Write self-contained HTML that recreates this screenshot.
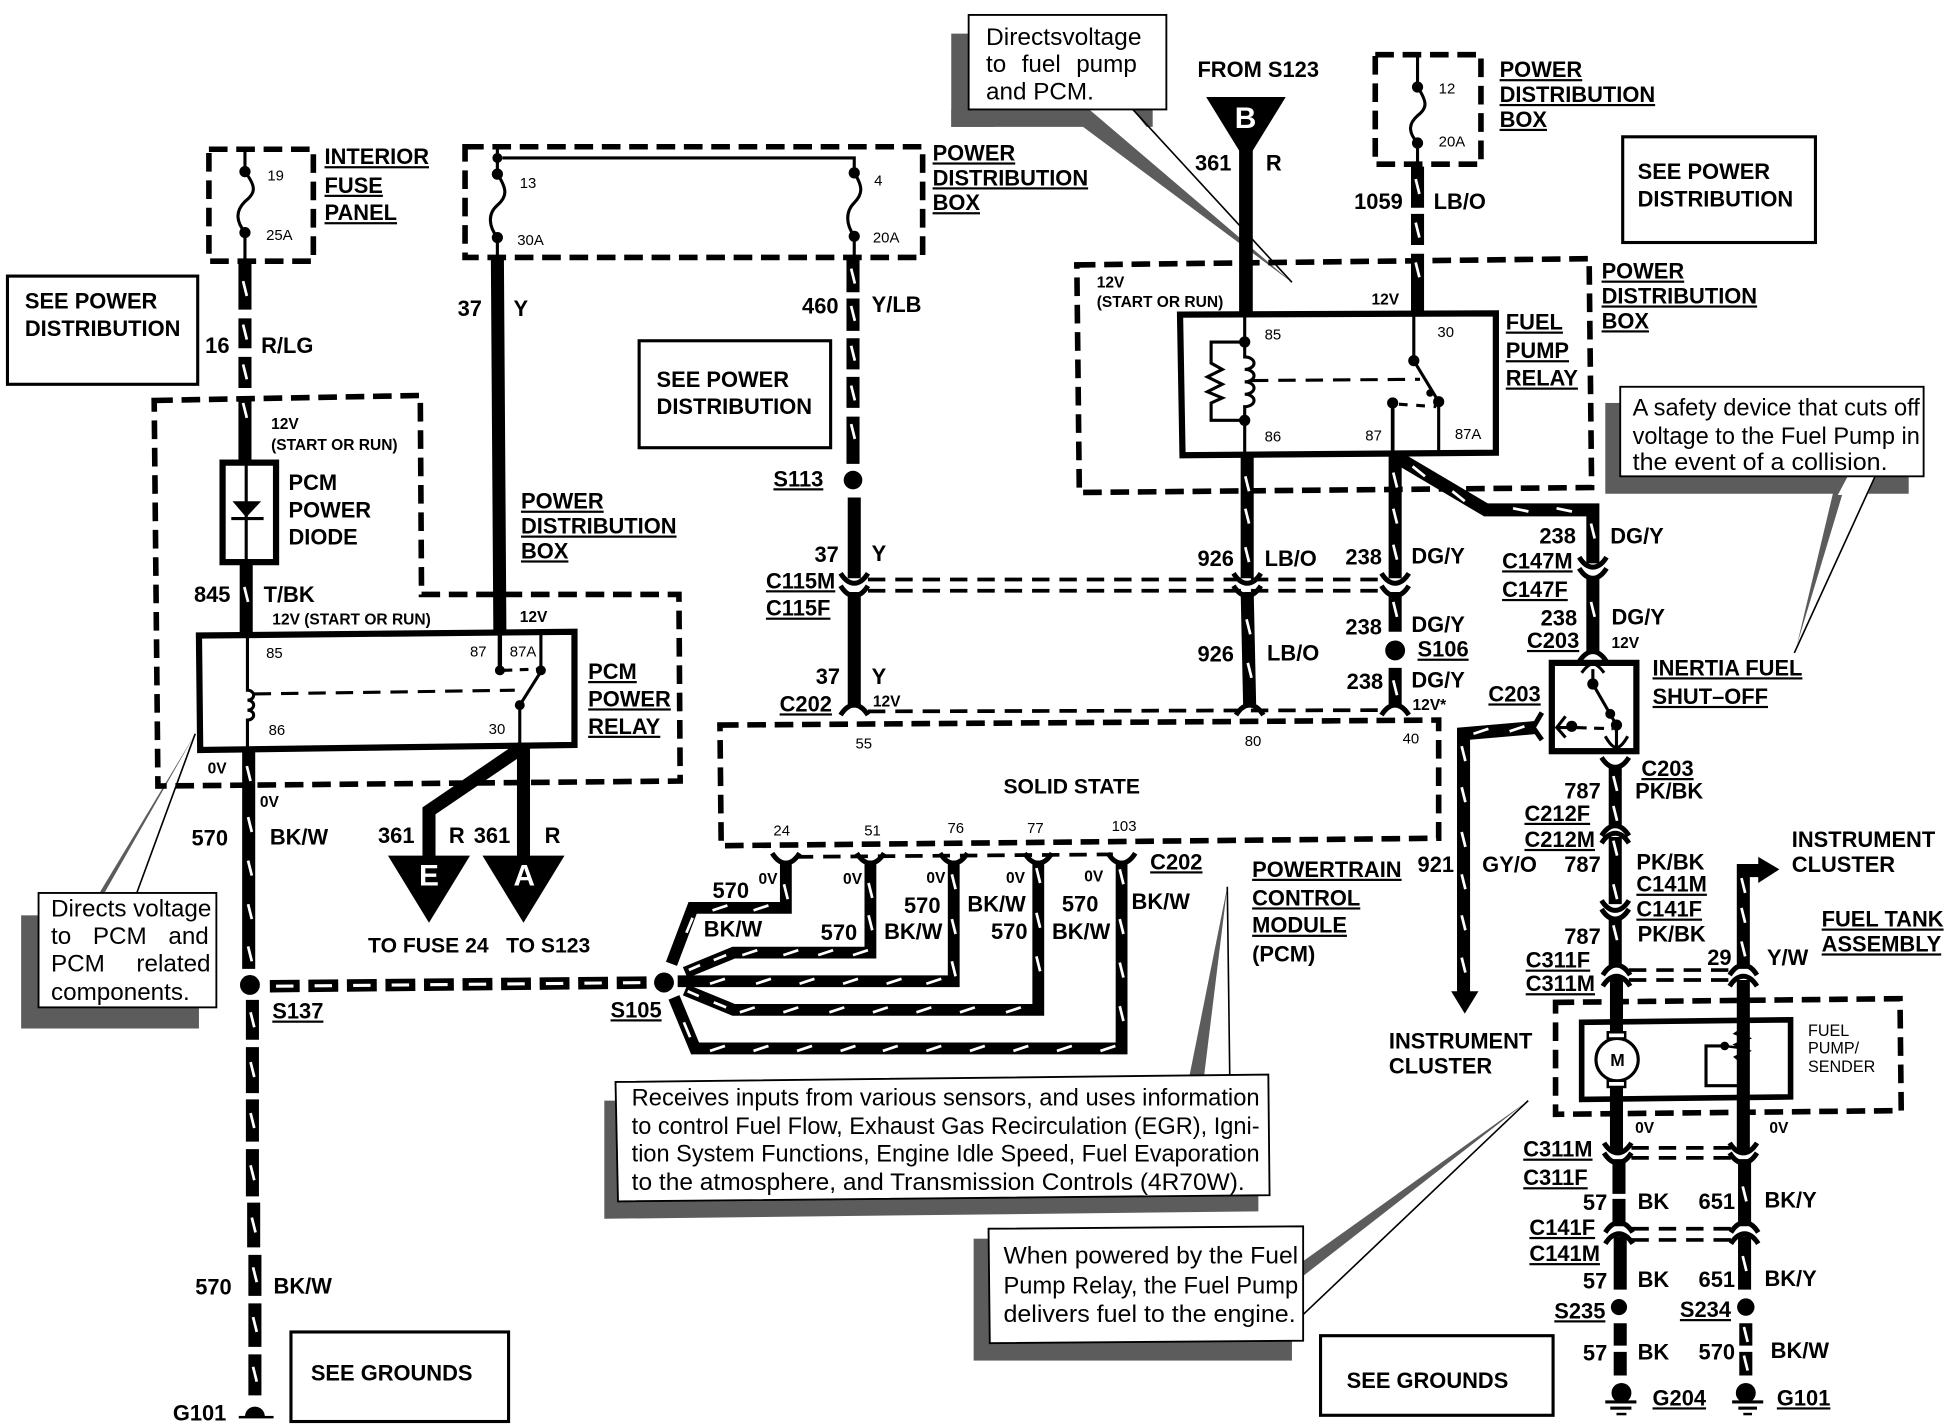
<!DOCTYPE html>
<html><head><meta charset="utf-8"><title>Fuel pump wiring diagram</title>
<style>
html,body{margin:0;padding:0;background:#fff}
svg{display:block}
text{font-family:"Liberation Sans",sans-serif;font-weight:700;font-size:17.6px;fill:#000}
.u{text-decoration:underline}
.s{font-size:12.5px}
.n{font-size:12px;font-weight:400}
.c{font-size:19.5px;font-weight:400}
.x{font-size:24px;fill:#fff}
.w{fill:none;stroke:#000;stroke-width:10.5}
.h{fill:none;stroke:#000;stroke-width:9.5}
.k{stroke:#fff;stroke-width:2.2;fill:none}
.d{fill:none;stroke:#000;stroke-width:4.5;stroke-dasharray:15 7}
.d2{fill:none;stroke:#000;stroke-width:3;stroke-dasharray:14 8}
.b{fill:none;stroke:#000;stroke-width:5}
.b2{fill:none;stroke:#000;stroke-width:2.5}
.l{fill:none;stroke:#000;stroke-width:2.5}
.p{fill:none;stroke:#000;stroke-width:1.3}
.sh{fill:#5c5c5c}
.wb{fill:#fff;stroke:#000;stroke-width:1.5}
</style></head>
<body>
<svg xmlns="http://www.w3.org/2000/svg" width="1946" height="1424" viewBox="0 0 1565 1145" preserveAspectRatio="none">
<defs>
<path id="sm" d="M-11,-5 Q-6,3 0,3 Q6,3 11,-5" fill="none" stroke="#000" stroke-width="4"/>
<path id="fr" d="M-11,5 Q-6,-3 0,-3 Q6,-3 11,5" fill="none" stroke="#000" stroke-width="4"/>
<path id="v" class="k" d="M-1.5,-6L1.5,6"/>
<path id="z" class="k" d="M-6,2L6,-2"/>
</defs>

<!-- callout shadows and pointers -->
<polygon class="sh" points="765,27 800,27 800,102 765,102"/>
<polygon class="sh" points="779,88 876,88 1039,227 871,102 765,102 765,88"/>
<polygon class="sh" points="911,88 927,88 927,102 922,102"/>
<rect class="wb" x="779" y="12" width="159" height="76"/>
<line class="p" x1="911" y1="88" x2="1039" y2="227"/>
<text class="c" x="793" y="36" textLength="125" lengthAdjust="spacingAndGlyphs">Directsvoltage</text>
<text class="c" x="793" y="58" style="word-spacing:7px">to fuel pump</text>
<text class="c" x="793" y="80">and PCM.</text>

<rect class="sh" x="17" y="736" width="143" height="91"/>
<polygon class="sh" points="80,718 84,718 157,590"/>
<line class="p" x1="110" y1="718" x2="157" y2="590"/>
<rect class="wb" x="31" y="718" width="143" height="92"/>
<text class="c" x="41" y="737" textLength="129" lengthAdjust="spacingAndGlyphs">Directs voltage</text>
<text class="c" x="41" y="759" style="word-spacing:12px">to PCM and</text>
<text class="c" x="41" y="781" style="word-spacing:20px">PCM related</text>
<text class="c" x="41" y="804">components.</text>

<polygon class="sh" points="486,885 1012,885 1012,974 486,980"/>
<polygon class="sh" points="956,868 968,868 987,713"/>
<line class="p" x1="989" y1="866" x2="987" y2="713"/>
<polygon class="wb" points="495,870 1020,864 1021,961 497,966"/>
<text class="c" x="508" y="889" textLength="505" lengthAdjust="spacingAndGlyphs">Receives inputs from various sensors, and uses information</text>
<text class="c" x="508" y="912" textLength="505" lengthAdjust="spacingAndGlyphs">to control Fuel Flow, Exhaust Gas Recirculation (EGR), Igni-</text>
<text class="c" x="508" y="934" textLength="505" lengthAdjust="spacingAndGlyphs">tion System Functions, Engine Idle Speed, Fuel Evaporation</text>
<text class="c" x="508" y="957" textLength="493" lengthAdjust="spacingAndGlyphs">to the atmosphere, and Transmission Controls (4R70W).</text>

<rect class="sh" x="783" y="996" width="256" height="98"/>
<polygon class="sh" points="1048,1014 1048,1026 1229,885"/>
<line class="p" x1="1048" y1="1057" x2="1229" y2="885"/>
<polygon class="wb" points="795,988 1048,986 1048,1078 796,1080"/>
<text class="c" x="807" y="1016" textLength="237" lengthAdjust="spacingAndGlyphs">When powered by the Fuel</text>
<text class="c" x="807" y="1040" textLength="237" lengthAdjust="spacingAndGlyphs">Pump Relay, the Fuel Pump</text>
<text class="c" x="807" y="1063" textLength="235" lengthAdjust="spacingAndGlyphs">delivers fuel to the engine.</text>

<rect class="sh" x="1291" y="324" width="244" height="73"/>
<polygon class="sh" points="1474,397 1486,383 1445,519"/>
<polygon fill="#fff" points="1486,383 1508,383 1502,398 1478,398"/>
<line class="p" x1="1508" y1="383" x2="1443" y2="525"/>
<rect class="wb" x="1303" y="311" width="244" height="72"/>
<text class="c" x="1313" y="334" textLength="231" lengthAdjust="spacingAndGlyphs">A safety device that cuts off</text>
<text class="c" x="1313" y="357" textLength="231" lengthAdjust="spacingAndGlyphs">voltage to the Fuel Pump in</text>
<text class="c" x="1313" y="378" textLength="205" lengthAdjust="spacingAndGlyphs">the event of a collision.</text>

<!-- dashed boxes -->
<rect class="d" x="168" y="120" width="84" height="90"/>
<rect class="d" x="374" y="118" width="368" height="89"/>
<polygon class="d" points="866,213 1278,208 1280,392 868,396"/>
<rect class="d" x="1106" y="44" width="85" height="88"/>
<polygon class="d" points="124,322 338,318 339,478 546,478 547,628 127,632"/>
<polygon class="d" points="579,583 1157,579 1157,674 580,680"/>
<polygon class="d" points="1251,806 1528,803 1529,893 1251,896"/>

<!-- solid boxes -->
<rect class="b2" x="6" y="222" width="153" height="87"/>
<rect class="b2" x="514" y="274" width="154" height="86"/>
<rect class="b2" x="1305" y="110" width="155" height="85"/>
<rect class="b2" x="234" y="1071" width="175" height="72"/>
<rect class="b2" x="1062" y="1074" width="187" height="64"/>

<!-- fuses -->
<path class="l" d="M197,120V138C206,150 206,155 197,162C189,170 190,178 197,187V210"/>
<path class="l" d="M400,118V140C408,152 408,158 400,165C392,172 393,182 400,191V207"/>
<path class="l" d="M404,127H687V139C694,150 694,156 687,163C680,170 680,180 687,190V205"/>
<path class="l" d="M1140,44V70C1148,82 1148,87 1140,93C1132,100 1133,107 1140,115V132"/>
<g fill="#000">
<circle cx="197" cy="138" r="4.5"/><circle cx="197" cy="187" r="4.5"/>
<circle cx="400" cy="127" r="4"/><circle cx="400" cy="140" r="4.5"/><circle cx="400" cy="191" r="4.5"/>
<circle cx="687" cy="139" r="4.5"/><circle cx="687" cy="190" r="4.5"/>
<circle cx="1140" cy="70" r="4.5"/><circle cx="1140" cy="115" r="4.5"/>
</g>

<!-- left 16 R/LG wire -->
<path class="w" d="M197,208V249M197,256V280M197,287V312M197,319V372M198,452V510"/>
<use href="#v" x="197" y="232"/><use href="#v" x="197" y="267"/><use href="#v" x="197" y="299"/><use href="#v" x="197" y="330"/><use href="#v" x="198" y="478"/>

<!-- diode -->
<rect class="b" x="179" y="372" width="43" height="80" fill="#fff"/>
<line class="l" x1="198" y1="372" x2="198" y2="452"/>
<polygon points="187,403 210,403 198,416"/>
<line x1="186" y1="417" x2="212" y2="417" stroke="#000" stroke-width="2.5"/>

<!-- 37 Y -->
<line class="w" x1="400" y1="207" x2="402" y2="508"/>

<!-- 460 -->
<path class="w" d="M686,205V235M686,240V266M686,272V297M686,303V328M686,335V373"/>
<use href="#v" x="686" y="222"/><use href="#v" x="686" y="252"/><use href="#v" x="686" y="284"/><use href="#v" x="686" y="316"/><use href="#v" x="686" y="347"/>
<circle cx="686" cy="386" r="7.5"/>
<path class="w" d="M687,400V465M687,476V568"/>
<use href="#sm" x="687" y="466"/><use href="#sm" x="687" y="476"/><use href="#fr" x="687" y="570"/>

<!-- PCM relay -->
<polygon class="b" points="160,511 462,508 462,599 161,603"/>
<path class="l" d="M199,510V555a5,4 0 0 1 0,8a5,4 0 0 1 0,8a5,4 0 0 1 0,8V601"/>
<line class="d2" x1="204" y1="558" x2="414" y2="555" style="stroke-width:2.5"/>
<line x1="402" y1="510" x2="402" y2="539" stroke="#000" stroke-width="3.5"/>
<line class="l" x1="435" y1="510" x2="435" y2="538"/>
<line class="l" x1="418" y1="567" x2="435" y2="540"/>
<line class="l" x1="418" y1="567" x2="418" y2="600"/>
<line class="d2" x1="405" y1="539" x2="432" y2="538" style="stroke-width:2.5;stroke-dasharray:7 6"/>
<g fill="#000"><circle cx="402" cy="539" r="4"/><circle cx="435" cy="539" r="4"/><circle cx="418" cy="567" r="4"/></g>

<!-- 0V / 570 -->
<path class="w" d="M200,601V779"/>
<use href="#v" x="200" y="622"/><use href="#v" x="201" y="663"/><use href="#v" x="201" y="698"/><use href="#v" x="201" y="733"/><use href="#v" x="201" y="767"/>
<circle cx="201" cy="792" r="8"/>
<path class="w" d="M203,804V836M203,842V879M203,884V918M203,924V962M204,967V1003M205,1009V1042M205,1048V1083M205,1089V1122"/>
<use href="#v" x="203" y="820"/><use href="#v" x="203" y="860"/><use href="#v" x="203" y="901"/><use href="#v" x="203" y="943"/><use href="#v" x="204" y="985"/><use href="#v" x="205" y="1025"/><use href="#v" x="205" y="1065"/><use href="#v" x="205" y="1105"/>
<path d="M197,1139a8,8 0 0 1 16,0z"/><rect x="192" y="1138.5" width="28" height="2"/>

<!-- 361 to E / A -->
<path class="w" d="M420,601L345,652V690"/>
<line class="w" x1="421" y1="601" x2="421" y2="690"/>
<polygon points="312,688 378,688 345,742"/>
<polygon points="388,688 454,688 421,742"/>
<text class="x" x="337" y="712">E</text>
<text class="x" x="413" y="712">A</text>

<!-- S137-S105 -->
<line x1="217" y1="793" x2="525" y2="790" stroke="#000" stroke-width="10" stroke-dasharray="24 7"/>
<line x1="222" y1="793" x2="525" y2="790" stroke="#fff" stroke-width="2.5" stroke-dasharray="14 17"/>
<circle cx="534" cy="790" r="8"/>

<!-- PCM harness -->
<path class="h" d="M632,692V730H557L540,775"/>
<path class="h" d="M700,692V766H590L551,782"/>
<path class="h" d="M767,692V789H545"/>
<path class="h" d="M835,692V812H590L551,796"/>
<path class="h" d="M902,692V843H559L542,802"/>
<use href="#v" x="632" y="717"/>
<use href="#z" x="579" y="730"/><use href="#z" x="612" y="730"/>
<line class="k" x1="552" y1="750" x2="557" y2="738"/>
<use href="#v" x="700" y="716"/><use href="#v" x="700" y="742"/>
<use href="#z" x="603" y="766"/><use href="#z" x="636" y="766"/><use href="#z" x="664" y="766"/><use href="#z" x="692" y="766"/>
<line class="k" x1="574" y1="772" x2="584" y2="768"/><line class="k" x1="554" y1="780" x2="563" y2="776"/>
<use href="#v" x="767" y="709"/><use href="#v" x="767" y="745"/><use href="#v" x="767" y="779"/>
<use href="#z" x="577" y="789"/><use href="#z" x="614" y="789"/><use href="#z" x="649" y="789"/><use href="#z" x="684" y="789"/><use href="#z" x="719" y="789"/><use href="#z" x="751" y="789"/>
<use href="#v" x="835" y="704"/><use href="#v" x="835" y="740"/><use href="#v" x="835" y="775"/>
<use href="#z" x="601" y="812"/><use href="#z" x="636" y="812"/><use href="#z" x="673" y="812"/><use href="#z" x="708" y="812"/><use href="#z" x="743" y="812"/><use href="#z" x="778" y="812"/><use href="#z" x="815" y="812"/>
<line class="k" x1="574" y1="806" x2="584" y2="810"/><line class="k" x1="553" y1="797" x2="562" y2="801"/>
<use href="#v" x="902" y="705"/><use href="#v" x="902" y="745"/><use href="#v" x="902" y="780"/><use href="#v" x="902" y="815"/>
<use href="#z" x="577" y="843"/><use href="#z" x="612" y="843"/><use href="#z" x="647" y="843"/><use href="#z" x="682" y="843"/><use href="#z" x="716" y="843"/><use href="#z" x="751" y="843"/><use href="#z" x="786" y="843"/><use href="#z" x="821" y="843"/><use href="#z" x="856" y="843"/><use href="#z" x="891" y="843"/>
<line class="k" x1="550" y1="822" x2="555" y2="834"/>
<use href="#sm" x="632" y="691"/><use href="#sm" x="700" y="691"/><use href="#sm" x="767" y="691"/><use href="#sm" x="835" y="691"/><use href="#sm" x="902" y="691"/>
<line class="d2" x1="640" y1="689" x2="895" y2="687"/>

<!-- fuel relay wires -->
<line class="w" x1="1002" y1="100" x2="1002" y2="253" style="stroke-width:11"/>
<polygon points="970,78 1034,78 1002,130"/>
<text class="x" x="993" y="103">B</text>
<path class="w" d="M1140,134V167M1140,172V197M1140,204V253"/>
<use href="#v" x="1140" y="150"/><use href="#v" x="1140" y="185"/><use href="#v" x="1140" y="217"/>

<polygon class="b" points="949,253 1203,252 1203,364 951,366"/>
<path class="l" d="M1001,252V287a6,4 0 0 1 0,10a6,4 0 0 1 0,10a6,4 0 0 1 0,10a6,4 0 0 1 0,10V365"/>
<path class="l" d="M1001,275H974V292L983,297L971,303L983,309L971,315L983,320L974,324V338H1001"/>
<line class="d2" x1="1006" y1="306" x2="1142" y2="305" style="stroke-width:2.5"/>
<path class="l" d="M1137,252V290L1157,323V365"/>
<line x1="1120" y1="324" x2="1120" y2="365" stroke="#000" stroke-width="3"/>
<line class="d2" x1="1125" y1="325" x2="1155" y2="327" style="stroke-width:2.5;stroke-dasharray:7 7"/>
<g fill="#000"><circle cx="1001" cy="275" r="4.5"/><circle cx="1001" cy="338" r="4.5"/><circle cx="1137" cy="290" r="4.5"/><circle cx="1157" cy="323" r="4.5"/><circle cx="1120" cy="324" r="4.5"/><circle cx="1150" cy="316" r="3"/></g>

<!-- 926 / 238 -->
<path class="w" d="M1003,366V465M1003,476L1005,568"/>
<use href="#v" x="1003" y="389"/><use href="#v" x="1003" y="415"/><use href="#v" x="1003" y="446"/><use href="#v" x="1004" y="504"/><use href="#v" x="1005" y="539"/>
<use href="#sm" x="1003" y="466"/><use href="#sm" x="1003" y="476"/><use href="#fr" x="1005" y="570"/>
<path class="w" d="M1122,366V465M1122,476V508M1122,537V568"/>
<use href="#v" x="1122" y="386"/><use href="#v" x="1122" y="415"/><use href="#v" x="1122" y="444"/><use href="#v" x="1122" y="490"/><use href="#v" x="1122" y="553"/>
<use href="#sm" x="1122" y="466"/><use href="#sm" x="1122" y="476"/><use href="#fr" x="1122" y="570"/>
<circle cx="1122" cy="523" r="8"/>
<path class="w" d="M1124,368L1195,410H1281V453M1281,463V525"/>
<line class="k" x1="1136" y1="375" x2="1146" y2="383"/><line class="k" x1="1168" y1="395" x2="1178" y2="403"/>
<use href="#z" x="1223" y="410" transform="rotate(30 1223 410)"/><use href="#z" x="1258" y="410" transform="rotate(30 1258 410)"/>
<use href="#v" x="1281" y="427"/><use href="#v" x="1281" y="490"/>
<use href="#sm" x="1281" y="453"/><use href="#sm" x="1281" y="462"/><use href="#fr" x="1281" y="527"/>
<line class="d2" x1="698" y1="466" x2="1113" y2="466"/>
<line class="d2" x1="698" y1="475" x2="1113" y2="475"/>
<line class="d2" x1="698" y1="572" x2="1113" y2="571"/>

<!-- inertia -->
<rect class="b" x="1248" y="533" width="68" height="71"/>
<path class="l" d="M1281,538V550L1300,583V600"/>
<path d="M1272,541Q1277,534 1281,534Q1285,534 1290,541" class="l"/>
<path d="M1291,592Q1296,601 1300,601Q1304,601 1309,592" class="l"/>
<line class="l" x1="1253" y1="585" x2="1264" y2="585"/>
<path class="l" d="M1259,576L1252,585L1259,593"/>
<line class="d2" x1="1268" y1="585" x2="1297" y2="586" style="stroke-width:2.5;stroke-dasharray:8 6"/>
<g fill="#000"><circle cx="1281" cy="550" r="4.5"/><circle cx="1295" cy="574" r="4"/><circle cx="1300" cy="583" r="4.5"/><circle cx="1264" cy="584" r="4.5"/></g>
<path class="w" d="M1235,585L1177,590V800"/>
<use href="#z" x="1191" y="588"/><use href="#z" x="1220" y="586"/>
<use href="#v" x="1177" y="606"/><use href="#v" x="1177" y="639"/><use href="#v" x="1177" y="675"/><use href="#v" x="1177" y="709"/><use href="#v" x="1177" y="742"/><use href="#v" x="1177" y="776"/>
<path d="M1240,573L1233,585L1240,595" class="l" style="stroke-width:4"/>
<polygon points="1167,797 1189,797 1178,815"/>

<!-- right column: 787 / 29 -->
<path class="w" d="M1299,615V665M1299,673V727M1299,737V776M1300,785V926M1302,932V960M1302,964V986M1303,994V1037M1303,1064V1082M1303,1087V1106"/>
<use href="#v" x="1299" y="630"/><use href="#v" x="1299" y="654"/><use href="#v" x="1299" y="682"/><use href="#v" x="1299" y="717"/><use href="#v" x="1299" y="750"/>
<use href="#sm" x="1299" y="614"/><use href="#fr" x="1299" y="667"/><use href="#fr" x="1299" y="673"/><use href="#sm" x="1299" y="729"/><use href="#sm" x="1299" y="736"/><use href="#fr" x="1300" y="779"/><use href="#fr" x="1300" y="788"/><use href="#sm" x="1301" y="924"/><use href="#sm" x="1301" y="932"/><use href="#fr" x="1302" y="986"/><use href="#fr" x="1302" y="995"/>
<path class="w" d="M1402,779V700H1416M1402,788V926M1403,932V986M1403,994V1037M1404,1064V1082M1404,1087V1106"/>
<use href="#v" x="1402" y="712"/><use href="#v" x="1402" y="736"/><use href="#v" x="1402" y="763"/><use href="#v" x="1403" y="960"/><use href="#v" x="1403" y="1016"/><use href="#v" x="1404" y="1073"/><use href="#v" x="1404" y="1096"/>
<polygon points="1414,689 1431,699 1414,710"/>
<use href="#fr" x="1402" y="779"/><use href="#fr" x="1402" y="788"/><use href="#sm" x="1402" y="924"/><use href="#sm" x="1402" y="932"/><use href="#fr" x="1403" y="986"/><use href="#fr" x="1403" y="995"/>
<line class="d2" x1="1310" y1="780" x2="1392" y2="780"/><line class="d2" x1="1310" y1="788" x2="1392" y2="788"/><line class="d2" x1="1312" y1="923" x2="1392" y2="923"/><line class="d2" x1="1312" y1="931" x2="1392" y2="931"/><line class="d2" x1="1312" y1="988" x2="1392" y2="988"/><line class="d2" x1="1312" y1="997" x2="1392" y2="997"/>
<circle cx="1302" cy="1051" r="6.5"/><circle cx="1404" cy="1051" r="7"/>

<!-- pump -->
<polygon class="b" style="stroke-width:4.5" points="1272,822 1440,820 1440,882 1272,884" fill="#fff"/>
<path class="l" d="M1300,821V830M1300,874V884"/>
<circle cx="1300.5" cy="852" r="17" fill="#fff" stroke="#000" stroke-width="2.5"/>
<rect x="1293" y="830" width="14" height="5" fill="#fff" stroke="#000" stroke-width="2"/>
<rect x="1293" y="869" width="14" height="5" fill="#fff" stroke="#000" stroke-width="2"/>
<text x="1295" y="857" style="font-size:14px">M</text>
<path class="l" d="M1402,821V827L1396,831L1406,835L1396,840L1406,845L1396,850L1402,855V884"/>
<path class="l" d="M1387,841H1372V873H1402"/>
<g fill="#000"><circle cx="1402" cy="872" r="4"/><circle cx="1387" cy="841" r="3.5"/></g>
<line x1="1387" y1="841" x2="1402" y2="843" stroke="#000" stroke-width="2"/>

<!-- grounds -->
<g fill="#000">
<circle cx="1304" cy="1120" r="8"/><rect x="1291" y="1126" width="25" height="2.5"/><rect x="1295" y="1131" width="17" height="2.5"/><rect x="1300" y="1136" width="8" height="2"/>
<circle cx="1404" cy="1120" r="8"/><rect x="1393" y="1126" width="25" height="2.5"/><rect x="1398" y="1131" width="15" height="2.5"/><rect x="1402" y="1136" width="7" height="2"/>
</g>

<!-- labels -->
<text class="u" x="261" y="132">INTERIOR</text><text class="u" x="261" y="155">FUSE</text><text class="u" x="261" y="177">PANEL</text>
<text class="u" x="750" y="129">POWER</text><text class="u" x="750" y="149">DISTRIBUTION</text><text class="u" x="750" y="169">BOX</text>
<text class="n" x="215" y="145">19</text><text class="n" x="214" y="193">25A</text>
<text class="n" x="418" y="151">13</text><text class="n" x="416" y="197">30A</text>
<text class="n" x="703" y="149">4</text><text class="n" x="702" y="195">20A</text>
<text x="20" y="248">SEE POWER</text><text x="20" y="270">DISTRIBUTION</text>
<text x="528" y="311">SEE POWER</text><text x="528" y="333">DISTRIBUTION</text>
<text x="1317" y="144">SEE POWER</text><text x="1317" y="166">DISTRIBUTION</text>
<text x="165" y="284">16</text><text x="210" y="284">R/LG</text>
<text x="368" y="254">37</text><text x="413" y="254">Y</text>
<text x="645" y="252">460</text><text x="701" y="251">Y/LB</text>
<text class="s" x="218" y="345">12V</text><text class="s" x="218" y="362">(START OR RUN)</text>
<text x="232" y="394">PCM</text><text x="232" y="416">POWER</text><text x="232" y="438">DIODE</text>
<text x="156" y="484">845</text><text x="212" y="484">T/BK</text>
<text class="s" x="219" y="502">12V (START OR RUN)</text><text class="s" x="418" y="500">12V</text>
<text class="u" x="419" y="409">POWER</text><text class="u" x="419" y="429">DISTRIBUTION</text><text class="u" x="419" y="449">BOX</text>
<text class="n" x="214" y="529">85</text><text class="n" x="378" y="528">87</text><text class="n" x="410" y="528">87A</text><text class="n" x="216" y="591">86</text><text class="n" x="393" y="590">30</text>
<text class="u" x="473" y="546">PCM</text><text class="u" x="473" y="568">POWER</text><text class="u" x="473" y="590">RELAY</text>
<text class="s" x="167" y="622">0V</text><text class="s" x="209" y="649">0V</text>
<text x="154" y="680">570</text><text x="217" y="679">BK/W</text>
<text x="304" y="678">361</text><text x="361" y="678">R</text><text x="381" y="678">361</text><text x="438" y="678">R</text>
<text x="296" y="766" style="font-size:17px">TO FUSE 24</text><text x="407" y="766" style="font-size:17px">TO S123</text>
<text class="u" x="219" y="819">S137</text><text class="u" x="491" y="818">S105</text>
<text x="157" y="1041">570</text><text x="220" y="1040">BK/W</text>
<text x="139" y="1142">G101</text>
<text x="250" y="1110">SEE GROUNDS</text><text x="1083" y="1116">SEE GROUNDS</text>
<text class="u" x="622" y="391">S113</text>
<text x="655" y="452">37</text><text x="701" y="451">Y</text>
<text class="u" x="616" y="473">C115M</text><text class="u" x="616" y="495">C115F</text>
<text x="656" y="550">37</text><text x="701" y="550">Y</text>
<text class="u" x="627" y="572">C202</text><text class="s" x="702" y="568">12V</text>
<text class="n" x="688" y="602">55</text><text class="n" x="1001" y="600">80</text><text class="n" x="1128" y="598">40</text>
<text x="807" y="638" style="font-size:17px">SOLID STATE</text>
<text class="n" x="622" y="672">24</text><text class="n" x="695" y="672">51</text><text class="n" x="762" y="670">76</text><text class="n" x="826" y="670">77</text><text class="n" x="894" y="668">103</text>
<text class="s" x="610" y="711">0V</text><text class="s" x="678" y="711">0V</text><text class="s" x="745" y="710">0V</text><text class="s" x="809" y="710">0V</text><text class="s" x="872" y="709">0V</text>
<text x="573" y="722">570</text><text x="566" y="753">BK/W</text><text x="660" y="756">570</text><text x="711" y="755">BK/W</text>
<text x="727" y="734">570</text><text x="778" y="733">BK/W</text><text x="797" y="755">570</text><text x="846" y="755">BK/W</text>
<text x="854" y="733">570</text><text x="910" y="731">BK/W</text>
<text class="u" x="925" y="699">C202</text>
<text class="u" x="1007" y="705">POWERTRAIN</text><text class="u" x="1007" y="728">CONTROL</text><text class="u" x="1007" y="750">MODULE</text><text x="1007" y="773">(PCM)</text>
<text x="963" y="62">FROM S123</text><text x="961" y="137">361</text><text x="1018" y="137">R</text>
<text class="n" x="1157" y="75">12</text><text class="n" x="1157" y="118">20A</text>
<text class="u" x="1206" y="62">POWER</text><text class="u" x="1206" y="82">DISTRIBUTION</text><text class="u" x="1206" y="102">BOX</text>
<text x="1089" y="168">1059</text><text x="1153" y="168">LB/O</text>
<text class="s" x="882" y="231">12V</text><text class="s" x="882" y="247">(START OR RUN)</text><text class="s" x="1103" y="245">12V</text>
<text class="n" x="1017" y="273">85</text><text class="n" x="1156" y="271">30</text><text class="n" x="1017" y="355">86</text><text class="n" x="1098" y="354">87</text><text class="n" x="1170" y="353">87A</text>
<text class="u" x="1211" y="265">FUEL</text><text class="u" x="1211" y="288">PUMP</text><text class="u" x="1211" y="310">RELAY</text>
<text class="u" x="1288" y="224">POWER</text><text class="u" x="1288" y="244">DISTRIBUTION</text><text class="u" x="1288" y="264">BOX</text>
<text x="963" y="455">926</text><text x="1017" y="455">LB/O</text><text x="1082" y="454">238</text><text x="1135" y="453">DG/Y</text>
<text x="1238" y="437">238</text><text x="1295" y="437">DG/Y</text>
<text class="u" x="1208" y="457">C147M</text><text class="u" x="1208" y="480">C147F</text>
<text x="1239" y="503">238</text><text x="1296" y="502">DG/Y</text>
<text class="u" x="1228" y="521">C203</text><text class="s" x="1296" y="521">12V</text>
<text x="1082" y="510">238</text><text x="1135" y="508">DG/Y</text><text class="u" x="1140" y="528">S106</text>
<text x="963" y="532">926</text><text x="1019" y="531">LB/O</text>
<text x="1083" y="554">238</text><text x="1135" y="553">DG/Y</text><text class="s" x="1136" y="571">12V*</text>
<text class="u" x="1329" y="543">INERTIA FUEL</text><text class="u" x="1329" y="566">SHUT–OFF</text>
<text class="u" x="1197" y="564">C203</text><text class="u" x="1320" y="624">C203</text>
<text x="1315" y="642">PK/BK</text><text x="1258" y="642">787</text>
<text class="u" x="1226" y="660">C212F</text><text class="u" x="1226" y="681">C212M</text>
<text x="1192" y="701">GY/O</text><text x="1140" y="701">921</text><text x="1258" y="701">787</text><text x="1316" y="699">PK/BK</text>
<text class="u" x="1316" y="717">C141M</text><text class="u" x="1316" y="737">C141F</text>
<text x="1258" y="759">787</text><text x="1317" y="757">PK/BK</text>
<text x="1373" y="776">29</text><text x="1421" y="776">Y/W</text>
<text class="u" x="1227" y="778">C311F</text><text class="u" x="1227" y="797">C311M</text>
<text x="1441" y="681">INSTRUMENT</text><text x="1441" y="701">CLUSTER</text>
<text class="u" x="1465" y="745">FUEL TANK</text><text class="u" x="1465" y="765">ASSEMBLY</text>
<text x="1117" y="843">INSTRUMENT</text><text x="1117" y="863">CLUSTER</text>
<text class="n" x="1454" y="833" style="font-size:13px">FUEL</text><text class="n" x="1454" y="847" style="font-size:13px">PUMP/</text><text class="n" x="1454" y="862" style="font-size:13px">SENDER</text>
<text class="s" x="1315" y="911">0V</text><text class="s" x="1423" y="911">0V</text>
<text class="u" x="1225" y="930">C311M</text><text class="u" x="1225" y="953">C311F</text>
<text x="1273" y="973">57</text><text x="1317" y="972">BK</text><text x="1366" y="972">651</text><text x="1419" y="971">BK/Y</text>
<text class="u" x="1230" y="993">C141F</text><text class="u" x="1230" y="1014">C141M</text>
<text x="1273" y="1036">57</text><text x="1317" y="1035">BK</text><text x="1366" y="1035">651</text><text x="1419" y="1034">BK/Y</text>
<text class="u" x="1250" y="1060">S235</text><text class="u" x="1351" y="1059">S234</text>
<text x="1273" y="1094">57</text><text x="1317" y="1093">BK</text><text x="1366" y="1093">570</text><text x="1424" y="1092">BK/W</text>
<text class="u" x="1329" y="1130">G204</text><text class="u" x="1429" y="1130">G101</text>
</svg>
</body></html>
